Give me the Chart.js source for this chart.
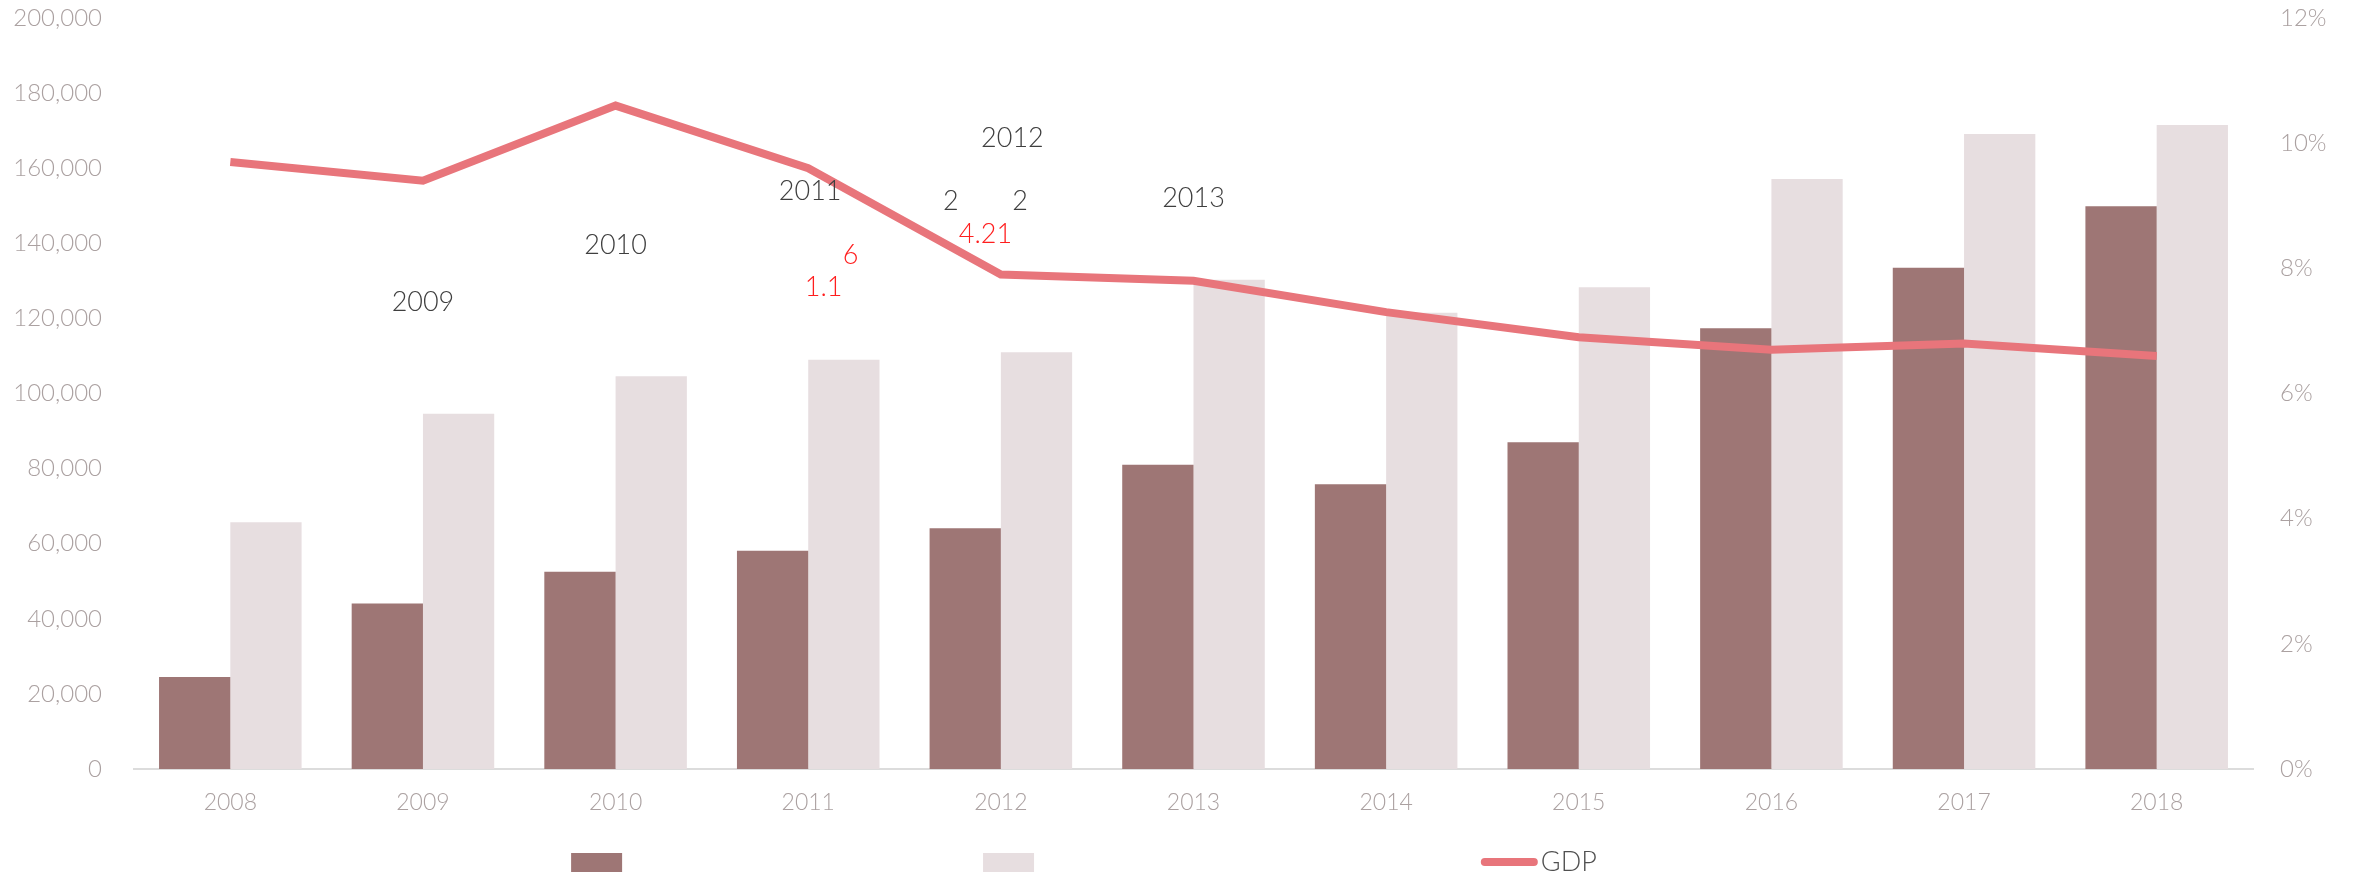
<!DOCTYPE html>
<html>
<head>
<meta charset="utf-8">
<script src="https://cdn.jsdelivr.net/npm/chart.js@4.4.1/dist/chart.umd.min.js"></script>
<style>
  html, body { margin: 0; padding: 0; background: #fff; }
  #wrap { width: 2358px; height: 879px; }
</style>
</head>
<body>
<div id="wrap"><canvas id="chart"></canvas></div>
<script>
// Dados
const years = ['2008', '2009', '2010', '2011', '2012', '2013', '2014', '2015', '2016', '2017', '2018'];
const darkSeries = [24500, 44100, 52500, 58100, 64100, 81000, 75800, 87000, 117400, 133500, 149900];
const lightSeries = [65700, 94600, 104600, 109000, 111000, 130300, 121500, 128300, 157100, 169100, 171500];
const gdpGrowth = [9.7, 9.4, 10.6, 9.6, 7.9, 7.8, 7.3, 6.9, 6.7, 6.8, 6.6];

// Escalas
const leftMax = 200000, leftStep = 20000;
const rightMax = 12, rightStep = 2;

// Textos soltos sobre o gráfico (índice da categoria, valor no eixo esquerdo)
const greyNotes = ['2009', '2010', '2011', '2012', '2013', '2', '2'];
const greyNoteX = [1, 2, 3.01, 4.06, 5, 3.74, 4.10];
const greyNoteY = [124200, 139500, 153900, 167900, 151900, 151100, 151100];
const redNotes = ['6', '1.1', '4.21'];
const redNoteX = [3.22, 3.08, 3.92];
const redNoteY = [136700, 128300, 142300];

const FONT = 'Lato, "Open Sans", sans-serif';
const tickColor = '#aba1a1';

// Plugin para os textos soltos
const notesPlugin = {
    id: 'notes',
    afterDatasetsDraw(chart) {
        const { ctx, scales } = chart;
        ctx.save();
        ctx.font = `300 27px ${FONT}`;
        ctx.textAlign = 'center';
        ctx.textBaseline = 'middle';
        const draw = (texts, xs, ys, color) => {
            ctx.fillStyle = color;
            texts.forEach((t, i) => {
                ctx.fillText(t, scales.x.getPixelForValue(xs[i]), scales.y.getPixelForValue(ys[i]));
            });
        };
        draw(greyNotes, greyNoteX, greyNoteY, '#3f3f3f');
        draw(redNotes, redNoteX, redNoteY, '#ff1e1e');
        ctx.restore();
    }
};

// Legenda desenhada à mão (espaçamento do original)
const legendPlugin = {
    id: 'customLegend',
    afterDraw(chart, args, opts) {
        const { ctx, width, height } = chart;
        const yc = height - opts.bottomOffset;
        ctx.save();
        chart.data.datasets.forEach((ds, i) => {
            const x = width * opts.slots[i];
            if (ds.type === 'line') {
                ctx.strokeStyle = ds.borderColor;
                ctx.lineWidth = 8;
                ctx.lineCap = 'round';
                ctx.beginPath();
                ctx.moveTo(x + 4, yc);
                ctx.lineTo(x + 53, yc);
                ctx.stroke();
                ctx.fillStyle = '#505050';
                ctx.font = `300 27px ${FONT}`;
                ctx.textBaseline = 'middle';
                ctx.fillText(ds.label, x + 60, yc);
            } else {
                ctx.fillStyle = ds.backgroundColor;
                ctx.fillRect(x, yc - 9, 51, 19);
            }
        });
        ctx.restore();
    }
};

const fitY = width => s => {
    s.width = width;
    s.paddingTop = 18;
    s.paddingBottom = 0;
};

const ctx = document.getElementById('chart').getContext('2d');
new Chart(ctx, {
    data: {
        labels: years,
        datasets: [
            {
                type: 'bar',
                label: '',
                data: darkSeries,
                yAxisID: 'y',
                backgroundColor: '#9e7675',
                borderWidth: 0,
                categoryPercentage: 0.74,
                barPercentage: 1,
                order: 1,
            },
            {
                type: 'bar',
                label: '',
                data: lightSeries,
                yAxisID: 'y',
                backgroundColor: '#e7dee0',
                borderWidth: 0,
                categoryPercentage: 0.74,
                barPercentage: 1,
                order: 1,
            },
            {
                type: 'line',
                label: 'GDP',
                data: gdpGrowth,
                yAxisID: 'y1',
                borderColor: '#e8757b',
                borderWidth: 8,
                pointRadius: 0,
                tension: 0,
                fill: false,
                order: 0,
            },
        ],
    },
    options: {
        responsive: true,
        maintainAspectRatio: false,
        animation: false,
        layout: { padding: 0 },
        scales: {
            x: {
                grid: { display: false, drawTicks: false },
                border: { display: true, color: '#dcdcdc', width: 2 },
                ticks: { color: tickColor, font: { family: FONT, size: 23, weight: 300 }, padding: 20 },
                afterFit: s => { s.height = 110; },
            },
            y: {
                position: 'left',
                min: 0,
                max: leftMax,
                grid: { display: false, drawTicks: false },
                border: { display: false },
                ticks: {
                    stepSize: leftStep,
                    color: tickColor,
                    padding: 32,
                    font: { family: FONT, size: 24, weight: 300 },
                    callback: v => v.toLocaleString('en-US'),
                },
                afterFit: fitY(134),
            },
            y1: {
                position: 'right',
                min: 0,
                max: rightMax,
                grid: { display: false, drawTicks: false },
                border: { display: false },
                ticks: {
                    stepSize: rightStep,
                    color: tickColor,
                    padding: 27,
                    font: { family: FONT, size: 24, weight: 300 },
                    callback: v => v + '%',
                },
                afterFit: fitY(105),
            },
        },
        plugins: {
            legend: { display: false },
            tooltip: { enabled: false },
            customLegend: { slots: [0.2422, 0.4169, 0.628], bottomOffset: 17 },
        },
    },
    plugins: [notesPlugin, legendPlugin],
});
</script>
</body>
</html>
